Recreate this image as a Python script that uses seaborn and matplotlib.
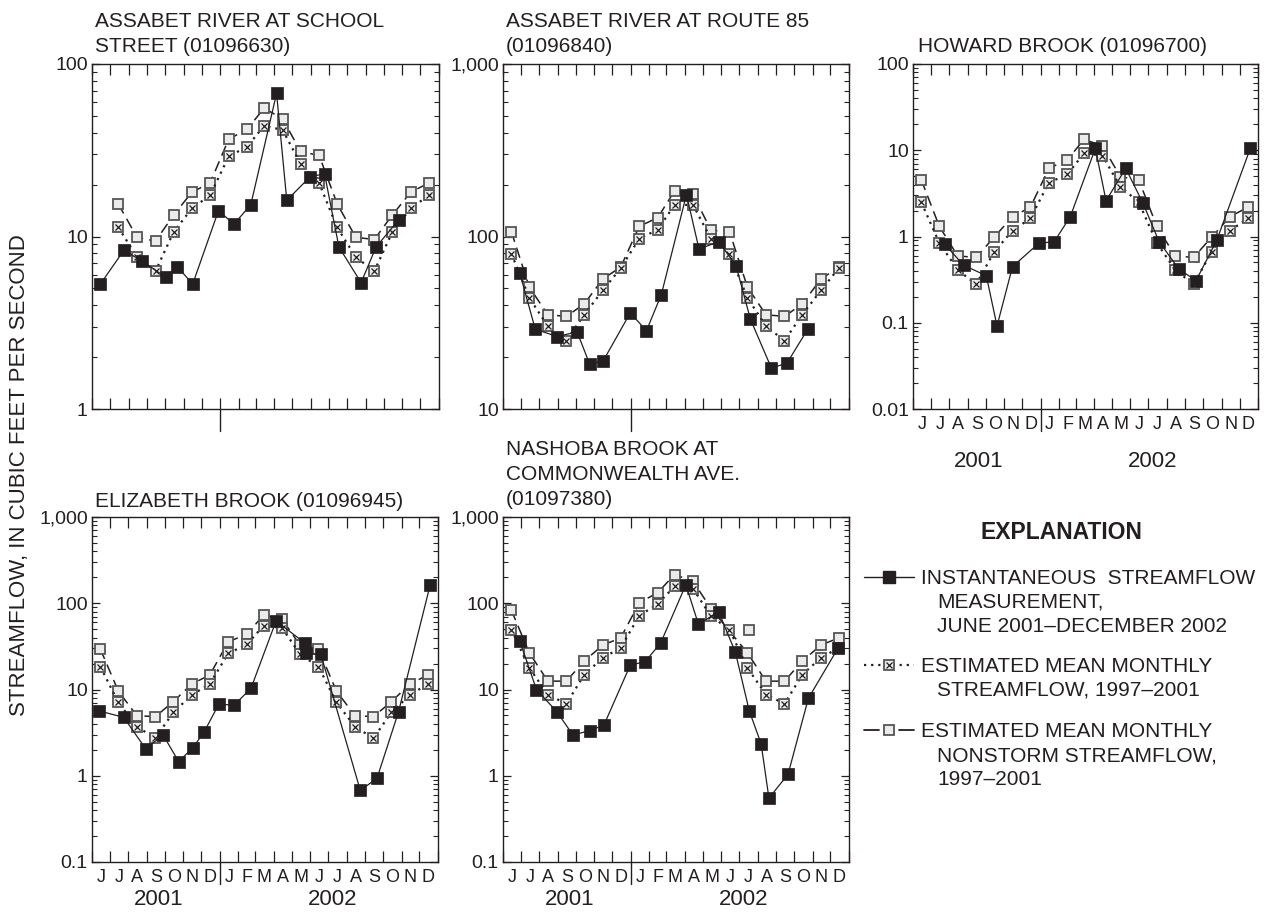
import numpy as np
import pandas as pd
import matplotlib
matplotlib.use("Agg")
import matplotlib.pyplot as plt
import matplotlib.dates as mdates
from matplotlib.ticker import FixedLocator, LogLocator, FuncFormatter, NullFormatter
import seaborn as sns

sns.set_theme(style="ticks")
plt.rcParams["font.family"] = ["Liberation Sans", "DejaVu Sans"]

# mid-month dates for the estimated mean monthly values, June 2001 - December 2002
month_starts = pd.date_range("2001-06-01", "2002-12-01", freq="MS")
mid_months = month_starts + pd.Timedelta(days=14)
nan = np.nan

# Assabet River at School Street (01096630)
school_dates = ["2001-06-15", "2001-07-24", "2001-08-24", "2001-10-02", "2001-10-21", "2001-11-16",
                "2001-12-29", "2002-01-24", "2002-02-21", "2002-04-05", "2002-04-22", "2002-05-31",
                "2002-06-24", "2002-07-18", "2002-08-24", "2002-09-18", "2002-10-26"]
school_meas = [5.3, 8.3, 7.2, 5.8, 6.7, 5.3, 14.1, 11.8, 15.3, 67.6, 16.2, 22.2, 23.1, 8.7, 5.4, 8.7, 12.5]
school_mean = [nan, 11.3, 7.6, 6.3, 10.6, 14.6, 17.3, 29.1, 33.2, 43.8, 41.5, 26.4, 20.4,
               11.3, 7.6, 6.3, 10.6, 14.6, 17.3]
school_nonstorm = [nan, 15.4, 9.9, 9.4, 13.3, 18.1, 20.4, 36.6, 41.9, 55.4, 48.2, 31.1, 29.5,
                   15.5, 9.9, 9.6, 13.3, 18.1, 20.4]

# Assabet River at Route 85 (01096840)
route85_dates = ["2001-06-29", "2001-07-25", "2001-08-31", "2001-10-03", "2001-10-24", "2001-11-16",
                 "2001-12-31", "2002-01-27", "2002-02-21", "2002-04-04", "2002-04-25", "2002-05-28",
                 "2002-06-26", "2002-07-20", "2002-08-24", "2002-09-19", "2002-10-24"]
route85_meas = [61.6, 29.0, 26.3, 28.0, 18.2, 19.1, 36.1, 28.4, 46.1, 175, 84.6, 93.3, 67.7,
                33.2, 17.3, 18.4, 29.0]
route85_mean = [79.5, 44.1, 30.2, 24.9, 35.3, 48.7, 65.6, 97.1, 109.6, 152.4, 152.4, 97.1, 79.5,
                44.1, 30.2, 24.9, 35.3, 48.7, 65.6]
route85_nonstorm = [106.7, 50.9, 35.2, 34.4, 40.7, 56.7, 66.5, 114.5, 128.6, 183.7, 175.7, 108.6, 106.7,
                    50.9, 35.2, 34.4, 40.7, 56.7, 66.5]

# Howard Brook (01096700)
howard_dates = ["2001-07-24", "2001-08-25", "2001-10-02", "2001-10-20", "2001-11-15", "2001-12-29",
                "2002-01-24", "2002-02-20", "2002-04-03", "2002-04-21", "2002-05-24", "2002-06-22",
                "2002-07-19", "2002-08-21", "2002-09-19", "2002-10-24", "2002-12-19"]
howard_meas = [0.818, 0.463, 0.352, 0.0917, 0.447, 0.834, 0.871, 1.70, 10.5, 2.60, 6.17, 2.43,
               0.871, 0.420, 0.308, 0.911, 10.5]
howard_mean = [2.49, 0.848, 0.409, 0.279, 0.661, 1.17, 1.62, 4.21, 5.26, 9.21, 8.65, 3.78, 2.49,
               0.848, 0.409, 0.279, 0.661, 1.17, 1.62]
howard_nonstorm = [4.52, 1.32, 0.594, 0.573, 0.978, 1.70, 2.18, 6.17, 7.71, 13.4, 11.2, 4.94, 4.52,
                   1.32, 0.594, 0.573, 0.978, 1.70, 2.18]

# Elizabeth Brook (01096945)
elizabeth_dates = ["2001-06-13", "2001-07-24", "2001-08-30", "2001-09-28", "2001-10-24", "2001-11-17",
                   "2001-12-06", "2001-12-30", "2002-01-25", "2002-02-22", "2002-04-05", "2002-05-24",
                   "2002-05-25", "2002-06-19", "2002-08-24", "2002-09-21", "2002-10-27", "2002-12-19"]
elizabeth_meas = [5.64, 4.76, 2.05, 2.97, 1.46, 2.12, 3.25, 6.73, 6.61, 10.3, 62.5, 34.2, 26.2,
                  25.5, 0.675, 0.937, 5.53, 164]
elizabeth_mean = [18.4, 7.10, 3.71, 2.72, 5.44, 8.63, 11.6, 26.2, 33.3, 54.7, 51.9, 25.7, 18.4,
                  7.10, 3.71, 2.72, 5.44, 8.63, 11.6]
elizabeth_nonstorm = [29.4, 9.6, 4.97, 4.85, 7.22, 11.6, 14.7, 35.7, 43.8, 72.7, 65.4, 32.7, 29.4,
                      9.6, 4.97, 4.85, 7.22, 11.6, 14.7]

# Nashoba Brook at Commonwealth Ave. (01097380)
nashoba_dates = ["2001-06-29", "2001-07-27", "2001-08-30", "2001-09-26", "2001-10-24", "2001-11-17",
                 "2001-12-31", "2002-01-25", "2002-02-20", "2002-04-03", "2002-04-24", "2002-05-28",
                 "2002-06-25", "2002-07-18", "2002-08-07", "2002-08-20", "2002-09-21", "2002-10-25",
                 "2002-12-14"]
nashoba_meas = [36.6, 10.0, 5.53, 2.97, 3.33, 3.88, 19.2, 21.0, 34.8, 164, 57.2, 79.4, 26.9, 5.69,
                2.34, 0.55, 1.04, 7.89, 30.5]
nashoba_mean = [49.6, 17.8, 8.75, 6.82, 14.9, 23.3, 30.4, 71.9, 98, 157, 148, 70.7, 49.6,
                17.8, 8.75, 6.82, 14.9, 23.3, 30.4]
nashoba_nonstorm = [83.0, 26.6, 12.5, 12.5, 21.4, 32.7, 39.7, 101, 133, 215, 180, 86.8, nan,
                    26.6, 12.5, 12.5, 21.4, 32.7, 39.7]
nashoba_stray_date = ["2002-07-17"]
nashoba_stray = [49.6]

month_letters = "JJASONDJFMAMJJASOND"

INK = "#231f20"
FACE = "#ebebeb"
EDGE = "#555555"
W, H = 1269, 917

fig = plt.figure(figsize=(W / 100, H / 100), dpi=100)


def px_axes(x0, y0, x1, y1):
    return fig.add_axes([x0 / W, 1 - y1 / H, (x1 - x0) / W, (y1 - y0) / H])


def fmt_flow(v, pos):
    return f"{v:,.0f}" if v >= 1 else f"{v:g}"


def draw_panel(ax, dates, meas, mean, nonstorm, ylim, labels, year_y):
    ax.set_yscale("log")
    ns = pd.DataFrame({"date": mid_months, "flow": nonstorm}).dropna()
    mn = pd.DataFrame({"date": mid_months, "flow": mean}).dropna()
    ms = pd.DataFrame({"date": pd.to_datetime(dates), "flow": meas})

    sns.lineplot(data=ns, x="date", y="flow", ax=ax, estimator=None, sort=False,
                 color=INK, lw=1.1, linestyle=(0, (7, 4)), marker="s", markersize=7.5,
                 markerfacecolor=FACE, markeredgecolor=EDGE, markeredgewidth=1.3, zorder=3)
    sns.lineplot(data=mn, x="date", y="flow", ax=ax, estimator=None, sort=False,
                 color=INK, lw=1.6, linestyle=(0, (1, 2.2)), marker="s", markersize=7.5,
                 markerfacecolor=FACE, markeredgecolor=EDGE, markeredgewidth=1.3, zorder=4)
    sns.lineplot(data=mn, x="date", y="flow", ax=ax, estimator=None, sort=False,
                 color=INK, linestyle="none", marker="x", markersize=5, markeredgecolor=INK,
                 markeredgewidth=0.9, zorder=5)
    sns.lineplot(data=ms, x="date", y="flow", ax=ax, estimator=None, sort=False,
                 color=INK, lw=0.9, marker="s", markersize=8.5, markerfacecolor=INK,
                 markeredgecolor=INK, markeredgewidth=0.5, zorder=6)

    ax.set_xlim(pd.Timestamp("2001-06-01"), pd.Timestamp("2003-01-01"))
    ax.set_ylim(*ylim)
    ax.set_xlabel("")
    ax.set_ylabel("")

    decades = [10.0 ** k for k in range(int(np.log10(ylim[0])), int(np.log10(ylim[1])) + 1)]
    ax.yaxis.set_major_locator(FixedLocator(decades))
    ax.yaxis.set_major_formatter(FuncFormatter(fmt_flow))
    ax.yaxis.set_minor_locator(LogLocator(base=10, subs=np.arange(2, 10)))
    ax.yaxis.set_minor_formatter(NullFormatter())
    ax.tick_params(axis="y", which="major", direction="in", length=5.5, width=0.9,
                   left=True, right=True, labelsize=14, pad=3, colors=INK)
    ax.tick_params(axis="y", which="minor", direction="in", length=3.8, width=0.8,
                   left=True, right=True)

    ax.xaxis.set_major_locator(mdates.MonthLocator())
    ax.xaxis.set_major_formatter(NullFormatter())
    ax.xaxis.set_minor_locator(mdates.MonthLocator(bymonthday=16))
    ax.xaxis.set_minor_formatter(FuncFormatter(
        lambda x, p: mdates.num2date(x).strftime("%b")[0]))
    ax.tick_params(axis="x", which="major", direction="in", length=8, width=0.9,
                   top=True, bottom=True, colors=INK)
    ax.tick_params(axis="x", which="minor", length=0, labelsize=13, pad=5,
                   labelbottom=labels, colors=INK)

    for sp in ax.spines.values():
        sp.set_color(INK)
        sp.set_linewidth(1.0)

    # year divider below the axis
    ax.plot([pd.Timestamp("2002-01-01")] * 2, [0, -0.065], transform=ax.get_xaxis_transform(),
            color=INK, lw=1.0, clip_on=False)
    if labels:
        for txt, d in [("2001", "2001-09-20"), ("2002", "2002-07-08")]:
            ax.text(pd.Timestamp(d), year_y, txt, transform=ax.get_xaxis_transform(),
                    ha="center", va="center", fontsize=16, color=INK)


ax_school = px_axes(92, 64, 439, 409)
ax_route = px_axes(503, 64, 849, 409)
ax_howard = px_axes(913, 64, 1258, 409)
ax_eliz = px_axes(92, 517, 438, 862)
ax_nash = px_axes(503, 517, 849, 862)

draw_panel(ax_school, school_dates, school_meas, school_mean, school_nonstorm, (1, 100), False, 0)
draw_panel(ax_route, route85_dates, route85_meas, route85_mean, route85_nonstorm, (10, 1000), False, 0)
draw_panel(ax_howard, howard_dates, howard_meas, howard_mean, howard_nonstorm, (0.01, 100), True, -0.153)
draw_panel(ax_eliz, elizabeth_dates, elizabeth_meas, elizabeth_mean, elizabeth_nonstorm,
           (0.1, 1000), True, -0.11)
draw_panel(ax_nash, nashoba_dates, nashoba_meas, nashoba_mean, nashoba_nonstorm, (0.1, 1000), True, -0.11)

# stray nonstorm symbol in the Nashoba panel
stray = pd.DataFrame({"date": pd.to_datetime(nashoba_stray_date), "flow": nashoba_stray})
sns.lineplot(data=stray, x="date", y="flow", ax=ax_nash, estimator=None, color=INK,
             linestyle="none", marker="s", markersize=7.5, markerfacecolor=FACE,
             markeredgecolor=EDGE, markeredgewidth=1.3, zorder=3)
ax_nash.set_xlabel("")
ax_nash.set_ylabel("")

# overlay in pixel coordinates for titles, axis label and explanation
lax = fig.add_axes([0, 0, 1, 1], zorder=-1)
lax.set_xlim(0, W)
lax.set_ylim(H, 0)
lax.axis("off")

titles = [
    (95, 27, ["ASSABET RIVER AT SCHOOL", "STREET (01096630)"]),
    (506, 27, ["ASSABET RIVER AT ROUTE 85", "(01096840)"]),
    (918, 52, ["HOWARD BROOK (01096700)"]),
    (95, 507, ["ELIZABETH BROOK (01096945)"]),
    (506, 455, ["NASHOBA BROOK AT", "COMMONWEALTH AVE.", "(01097380)"]),
]
for x, y, lines in titles:
    for i, line in enumerate(lines):
        lax.text(x, y + 25 * i, line, ha="left", va="baseline", fontsize=15, color=INK)

lax.text(20, 475, "STREAMFLOW, IN CUBIC FEET PER SECOND", rotation=90, ha="center",
         va="center", fontsize=16, color=INK)

lax.text(1061, 539, "EXPLANATION", ha="center", va="baseline", fontsize=16.5,
         fontweight="bold", color=INK)

entries = [
    (577, ["INSTANTANEOUS  STREAMFLOW", "MEASUREMENT,", "JUNE 2001\u2013DECEMBER 2002"]),
    (665, ["ESTIMATED MEAN MONTHLY", "STREAMFLOW, 1997\u20132001"]),
    (730, ["ESTIMATED MEAN MONTHLY", "NONSTORM STREAMFLOW,", "1997\u20132001"]),
]
for (y, lines) in entries:
    for i, line in enumerate(lines):
        lax.text(921 if i == 0 else 937, y + 7 + 24 * i, line, ha="left", va="baseline",
                 fontsize=15, color=INK)

y1, y2, y3 = (e[0] for e in entries)
lax.plot([864, 914], [y1, y1], color=INK, lw=1.0)
lax.plot([889], [y1], marker="s", markersize=8.5, color=INK)
lax.plot([864, 914], [y2, y2], color=INK, lw=1.6, linestyle=(0, (1, 2.2)))
lax.plot([889], [y2], marker="s", markersize=7.5, markerfacecolor=FACE, markeredgecolor=EDGE,
         markeredgewidth=1.3)
lax.plot([889], [y2], marker="x", markersize=5, markeredgecolor=INK, markeredgewidth=0.9)
lax.plot([864, 879], [y3, y3], color=INK, lw=1.3)
lax.plot([899, 914], [y3, y3], color=INK, lw=1.3)
lax.plot([889], [y3], marker="s", markersize=7.5, markerfacecolor=FACE, markeredgecolor=EDGE,
         markeredgewidth=1.3)

fig.savefig("out.png", dpi=100)
